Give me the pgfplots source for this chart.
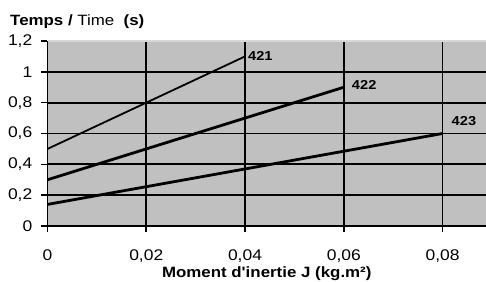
\documentclass[border=0pt]{standalone}
\usepackage{fontspec}
\setmainfont{Liberation Sans}[FakeStretch=1.13, Ligatures=TeXOff]
\usepackage{pgfplots}
\pgfplotsset{compat=1.18}
\definecolor{plotbg}{HTML}{C0C0C0}
\definecolor{topline}{HTML}{D8D8D8}
\begin{document}
\begin{tikzpicture}
\path[use as bounding box] (-47.5bp,-56bp) rectangle (438.5bp,226bp);
\begin{axis}[
  at={(0,0)}, anchor=south west,
  scale only axis, width=438.5bp, height=185bp,
  xmin=0, xmax=0.0888, ymin=0, ymax=1.2,
  axis lines*=left,
  axis line style={black, line width=1.8bp},
  axis background/.style={fill=plotbg},
  xtick={0,0.02,0.04,0.06,0.08},
  ytick={0,0.2,0.4,0.6,0.8,1,1.2},
  scaled x ticks=false, scaled y ticks=false,
  extra y ticks={0.2,0.4,0.6,0.8,1},
  extra y tick labels={},
  extra y tick style={major tick length=0pt, grid=major},
  xmajorgrids=true,
  major grid style={black, line width=1.8bp},
  tick align=outside,
  major tick length=6bp,
  tick style={black, line width=1.6bp},
  /pgf/number format/assume math mode=true,
  /pgf/number format/.cd, use comma, fixed, precision=2, 1000 sep={},
  /pgfplots/.cd,
  ticklabel style={font=\fontsize{15.5}{17}\selectfont},
  yticklabel style={anchor=east, inner sep=0pt, xshift=-9bp},
  xticklabel style={anchor=north, inner sep=0pt, yshift=-17.5bp},
  xlabel={\textbf{Moment d'inertie J (kg.m²)}},
  xlabel style={at={(rel axis cs:0.5,0)}, anchor=base, inner sep=0pt, yshift=-51bp, font=\fontsize{15}{17}\selectfont},
  clip=false,
]
\addplot[black, line width=1.8bp] coordinates {(0,0.5) (0.04,1.1)};
\addplot[black, line width=2.8bp] coordinates {(0,0.3) (0.06,0.9)};
\addplot[black, line width=2.8bp] coordinates {(0,0.14) (0.08,0.6)};
\node[anchor=west, inner sep=0pt, xshift=3bp, font=\fontsize{13}{15}\selectfont\bfseries] at (axis cs:0.04,1.1) {421};
\node[anchor=west, inner sep=0pt, xshift=8bp, yshift=2bp, font=\fontsize{13}{15}\selectfont\bfseries] at (axis cs:0.06,0.9) {422};
\node[anchor=west, inner sep=0pt, xshift=9bp, yshift=12bp, font=\fontsize{13}{15}\selectfont\bfseries] at (axis cs:0.08,0.6) {423};
\draw[topline, line width=1.2bp] ([xshift=1bp]rel axis cs:0,1) -- (rel axis cs:1,1);
\node[anchor=base west, inner sep=0pt, xshift=-37.5bp, yshift=15bp, font=\fontsize{15}{17}\selectfont] at (rel axis cs:0,1) {\textbf{Temps /} Time\ \ \textbf{(s)}};
\end{axis}
\end{tikzpicture}
\end{document}
